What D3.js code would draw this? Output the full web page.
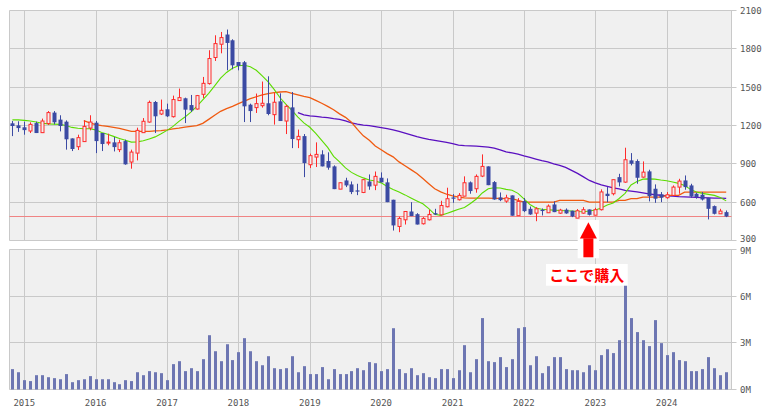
<!DOCTYPE html>
<html><head><meta charset="utf-8">
<script src="https://cdn.jsdelivr.net/npm/d3@7/dist/d3.min.js"></script>
<style>
html,body{margin:0;padding:0;background:#fff;}
svg{display:block;}
.ax{font-family:"DejaVu Sans Mono",monospace;font-size:9px;fill:#555;}
</style></head>
<body>
<svg id="c" width="771" height="413"></svg>
<script>
// ---- data (monthly, Nov 2014 .. Nov 2024) ----
const open = [1217,1201,1186,1157,1219,1144,1215,1301,1246,1230, 1099,1034,1074,1180,1222,1141,1063,1068,1011,1078,
 914,984,1144,1227,1384,1290,1327,1269,1395,1413, 1360,1329,1444,1528,1732,1836,1912,1867,1697,1695,
 1363,1340,1355,1374,1285,1389,1235,1342,1089,1117, 893,953,974,922,880,702,770,739,692,676,
 762,733,791,755,619,410,462,527,506,431, 462,514,501,564,637,619,647,755,705,804,
 880,757,637,608,653,494,608,548,514,540, 517,582,514,541,533,475,514,543,498,541,
 666,666,796,757,927,922,796,841,705,661, 635,653,718,770,731,666,658,634,569,509, 522];
const close = [1196,1180,1164,1209,1141,1235,1301,1225,1196,1092, 1016,1105,1193,1227,1078,1055,1070,1031,1065,896,
 992,1162,1233,1381,1272,1319,1272,1403,1418,1324, 1319,1434,1530,1724,1841,1888,1846,1671,1666,1350,
 1313,1371,1374,1290,1382,1235,1350,1094,1115,906, 964,974,880,870,702,752,731,679,687,776,
 723,802,755,600,418,473,527,491,425,473, 504,504,574,627,627,653,752,687,802,880,
 733,621,616,634,494,606,530,504,548,532, 569,522,538,512,488,533,541,501,541,680,
 648,776,755,932,901,791,835,647,627,635, 658,718,765,718,645,640,621,548,509,530, 488];
const high = [1235,1233,1230,1225,1230,1254,1313,1313,1280,1240, 1099,1128,1240,1280,1235,1141,1136,1110,1089,1089,
 1011,1183,1258,1395,1392,1403,1371,1434,1489,1418, 1439,1439,1580,1789,1906,1932,1951,1875,1697,1705,
 1371,1450,1544,1585,1454,1452,1363,1462,1168,1133, 980,1068,1006,990,888,755,791,762,744,781,
 817,840,833,786,619,486,527,600,514,483, 540,548,611,713,663,671,802,762,817,974,
 880,765,676,658,653,632,632,566,561,551, 582,606,548,551,533,546,561,543,556,700,
 718,776,822,1026,984,935,919,854,739,679, 679,731,783,809,744,674,679,634,574,548, 535];
const low = [1117,1150,1128,1141,1141,1141,1204,1209,1154,1011, 1000,1008,1071,1162,984,1000,1045,997,992,893,
 862,927,1144,1222,1141,1282,1266,1262,1395,1219, 1306,1324,1415,1520,1705,1765,1632,1640,1632,1227,
 1227,1298,1340,1280,1207,1235,1133,1023,1023,796, 867,875,880,854,702,702,718,663,655,671,
 697,694,755,600,378,365,425,491,425,425, 457,499,496,559,595,613,647,666,674,796,
 733,619,608,595,494,494,522,501,451,496, 517,522,509,509,483,475,509,496,498,535,
 600,653,723,752,888,744,791,606,595,600, 627,653,666,697,634,627,613,465,504,509, 483];
// volume in millions of shares
const volume = [1.31,1.11,0.60,0.54,0.92,0.92,0.79,0.73,0.66,0.99, 0.47,0.60,0.66,0.86,0.66,0.66,0.66,0.47,0.34,0.60,
 0.54,1.11,0.92,1.18,1.11,1.05,0.60,1.63,1.82,1.18, 1.37,1.18,1.95,3.49,2.46,1.82,2.91,1.89,2.40,3.30,
 2.46,1.82,1.56,2.14,1.37,1.31,1.37,2.14,1.11,1.50, 0.99,0.99,1.44,0.66,1.31,0.99,0.99,1.18,1.37,1.24,
 1.76,1.69,1.18,1.31,3.94,1.31,1.05,1.37,0.92,1.05, 0.79,0.73,1.31,1.31,0.73,1.24,2.85,1.11,1.95,4.59,
 1.82,1.76,2.08,1.44,1.95,3.94,4.01,1.56,2.14,1.05, 1.50,2.08,2.08,1.31,1.24,1.24,1.11,1.56,1.24,2.21,
 2.59,2.34,3.17,6.71,4.59,3.69,3.17,2.79,4.46,2.98, 2.21,2.40,1.89,1.82,1.18,1.18,1.31,2.08,1.37,0.92, 1.11];
// moving averages
const maShort = [1244,1244,1240,1235,1227,1217,1213,1211,1209,1200, 1185,1178,1175,1175,1166,1146,1131,1115,1099,1084,
 1070,1072,1080,1095,1111,1135,1162,1193,1232,1266, 1305,1350,1400,1452,1510,1570,1615,1648,1668,1671,
 1660,1632,1589,1541,1483,1417,1366,1319,1266,1221, 1186,1139,1084,1029,958,915,868,833,809,790,
 774,766,751,723,700,679,657,633,610,587, 550,505,497,512,528,545,558,590,625,672,
 705,713,711,700,693,669,626,582,555,545, 541,538,535,533,531,527,525,531,539,555,
 578,594,629,669,735,762,780,782,780,773, 768,758,747,731,700,679,669,661,653,637, 610];
const maMid = [null,null,null,null,null,null,null,null,null,null, null,null,1238,1221,1207,1199,1193,1186,1178,1166,
 1154,1154,1154,1154,1158,1160,1166,1174,1180,1188, 1193,1199,1217,1248,1280,1311,1332,1350,1371,1390,
 1410,1425,1440,1450,1458,1462,1465,1452,1440,1428, 1418,1397,1374,1350,1323,1291,1264,1225,1170,1119,
 1084,1040,1010,980,955,915,885,855,825,785, 745,705,680,662,650,640,634,632,632,632,
 632,629,629,627,627,614,600,600,600,600, 600,600,614,614,614,614,614,600,600,600,
 600,600,614,614,627,627,639,639,639,639, 653,653,653,679,679,679,679,679,679,679, 679];
const maLong = [null,null,null,null,null,null,null,null,null,null, null,null,null,null,null,null,null,null,null,null,
 null,null,null,null,null,null,null,null,null,null, null,null,null,null,null,null,null,null,null,null,
 null,null,null,null,null,null,null,null,1301,1284, 1276,1272,1266,1262,1254,1248,1236,1221,1211,1203,
 1199,1191,1184,1175,1166,1154,1141,1127,1113,1102, 1092,1084,1076,1068,1058,1047,1043,1041,1039,1035,
 1031,1023,1009,993,986,976,962,950,937,925, 915,900,888,872,849,825,798,770,751,735,
 723,712,704,692,687,680,673,665,658,654, 650,647,643,641,639,637,635,634,632,631, 629];
const currentPrice = 495;
const priceTicks = [300,600,900,1200,1500,1800,2100];
const volTicks = [0,3,6,9];
const volTickLabels = ["0M","3M","6M","9M"];
const yearLabels = ["2015","2016","2017","2018","2019","2020","2021","2022","2023","2024"];
const firstMonth = new Date(2014,10,1);
const months = d3.timeMonth.range(firstMonth, new Date(2024,11,1));
const annotationIndex = 97;
const annotationText = "ここで購入";

// ---- layout ----
const L = 9.5, R = 731.5;
const x = d3.scaleLinear().domain([0, months.length-1]).range([12.4, 726.2]);
const yP = d3.scaleLinear().domain([300,2100]).range([240.5,10.5]);
const yV = d3.scaleLinear().domain([0,9]).range([389.5,249.5]);
const svg = d3.select("#c");
const grid = "#c9c9c9";
const janIdx = months.map((m,i)=>m.getMonth()===0?i:-1).filter(i=>i>=0);
const cx = i => Math.round(x(i));

function panel(y0,y1){
  svg.append("rect").attr("x",L).attr("y",y0).attr("width",R-L).attr("height",y1-y0)
    .attr("fill","#f0f0f0");
  svg.append("g").selectAll("line").data(janIdx).join("line")
    .attr("x1",i=>cx(i)+0.5).attr("x2",i=>cx(i)+0.5).attr("y1",y0).attr("y2",y1)
    .attr("stroke",grid).attr("stroke-width",1);
}
panel(yP(2100), yP(300));
panel(yV(9), yV(0));

// price horizontal grid + labels
const pg = svg.append("g");
priceTicks.forEach(t=>{
  const yy = Math.round(yP(t)-0.5)+0.5;
  pg.append("line").attr("x1",L).attr("x2",R+5).attr("y1",yy).attr("y2",yy).attr("stroke",grid);
  pg.append("text").attr("class","ax").attr("x",740).attr("y",t===300?yy-1.5:yy).attr("dy","0.35em").text(t);
});
const vg = svg.append("g");
volTicks.forEach((t,k)=>{
  const yy = Math.round(yV(t)-0.5)+0.5;
  vg.append("line").attr("x1",L).attr("x2",R+5).attr("y1",yy).attr("y2",yy).attr("stroke",grid);
  vg.append("text").attr("class","ax").attr("x",740).attr("y",t===9?yy+1.5:yy).attr("dy","0.35em").text(volTickLabels[k]);
});
// borders
[[yP(2100),yP(300)],[yV(9),yV(0)]].forEach(([a,b])=>{
  svg.append("line").attr("x1",L).attr("x2",L).attr("y1",a).attr("y2",b).attr("stroke",grid);
  svg.append("line").attr("x1",R).attr("x2",R).attr("y1",a).attr("y2",b).attr("stroke",grid);
});
// year labels
svg.append("g").selectAll("text").data(janIdx).join("text").attr("class","ax")
  .attr("x",i=>x(i)).attr("y",403).attr("text-anchor","middle").attr("dy","0.35em")
  .text((i,k)=>yearLabels[k]);

// current price line
svg.append("line").attr("x1",L).attr("x2",R).attr("y1",Math.round(yP(currentPrice))+0.5)
  .attr("y2",Math.round(yP(currentPrice))+0.5).attr("stroke","#f08484").attr("stroke-width",1.2);

// volume bars
svg.append("g").selectAll("rect").data(volume).join("rect")
  .attr("x",(d,i)=>cx(i)-1).attr("width",3)
  .attr("y",d=>yV(d)).attr("height",d=>yV(0)-yV(d))
  .attr("fill","#6d76b2");

// moving averages
const line = d3.line().defined(d=>d!=null).x((d,i)=>x(i)).y(d=>yP(d));
const maG = svg.append("g").attr("fill","none");
maG.append("path").attr("d",line(maLong)).attr("stroke","#5a10c0").attr("stroke-width",1.3);
maG.append("path").attr("d",line(maMid)).attr("stroke","#f05a10").attr("stroke-width",1.3);
maG.append("path").attr("d",line(maShort)).attr("stroke","#5cdc00").attr("stroke-width",1.1);

// candles
const cg = svg.append("g");
open.forEach((o,i)=>{
  const c = close[i], up = c >= o;
  const col = up ? "#ff2a2a" : "#3b4aa3";
  const xx = cx(i)+0.5;
  cg.append("line").attr("x1",xx).attr("x2",xx).attr("y1",yP(high[i])).attr("y2",yP(low[i]))
    .attr("stroke",col).attr("stroke-width",1);
  const top = yP(Math.max(o,c)), bot = yP(Math.min(o,c));
  if(up){
    cg.append("rect").attr("x",xx-1.5).attr("width",3).attr("y",top).attr("height",Math.max(bot-top,1))
      .attr("fill","#f0f0f0").attr("stroke",col).attr("stroke-width",1);
  } else {
    cg.append("rect").attr("x",xx-2).attr("width",4).attr("y",top).attr("height",Math.max(bot-top,1.2))
      .attr("fill",col);
  }
});

// annotation
const ax0 = x(annotationIndex) - 1;
const an = svg.append("g");
an.append("rect").attr("x",ax0-10.7).attr("y",220).attr("width",21.4).attr("height",38.3).attr("fill","#fff");
an.append("path").attr("d",`M${ax0},222.3L${ax0-8.5},238.5L${ax0+8.5},238.5Z`).attr("fill","#ff0000");
an.append("rect").attr("x",ax0-5).attr("y",238.3).attr("width",10).attr("height",19).attr("fill","#ff0000");
an.append("rect").attr("x",546).attr("y",264).attr("width",81.7).attr("height",21.7).attr("fill","#fff");
an.append("text").attr("x",586.8).attr("y",275.5).attr("dy","0.35em").attr("text-anchor","middle")
  .attr("font-family","'Noto Sans CJK JP',sans-serif").attr("font-size","15px").attr("font-weight","bold")
  .attr("fill","#ff0000").text(annotationText);
</script>
</body></html>
